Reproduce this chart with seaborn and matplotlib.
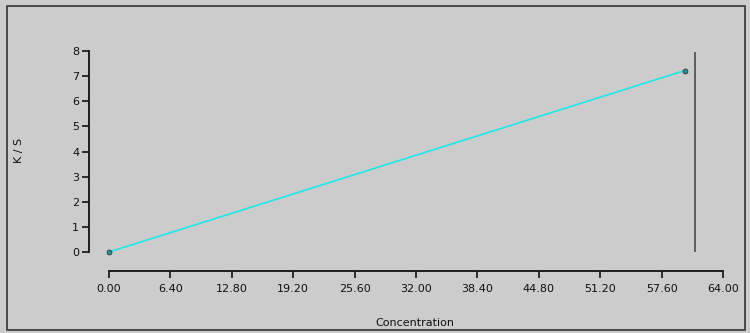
import matplotlib
matplotlib.use("Agg")
import matplotlib.pyplot as plt
import seaborn as sns
import pandas as pd
from matplotlib.patches import Rectangle

# Data
concentration = [0.0, 60.0]
ks_values = [0.0, 7.22]
x_ticks = [0.0, 6.4, 12.8, 19.2, 25.6, 32.0, 38.4, 44.8, 51.2, 57.6, 64.0]
y_ticks = [0, 1, 2, 3, 4, 5, 6, 7, 8]
cursor_x = 61.1

df = pd.DataFrame({"Concentration": concentration, "K / S": ks_values})

sns.set_style("white")
plt.rcParams["font.family"] = ["DejaVu Sans"]
bg = "#cccccc"

fig = plt.figure(figsize=(7.5, 3.33), dpi=100, facecolor=bg)
# frame around the plot area
fig.patches.append(Rectangle((7 / 750, 3 / 333), 738 / 750, 324 / 333,
                             transform=fig.transFigure, fill=False,
                             edgecolor="#333333", linewidth=1.2))

ax = fig.add_axes([89 / 750, 62 / 333, (728 - 89) / 750, (271 - 48) / 333])
ax.set_facecolor(bg)

sns.lineplot(data=df, x="Concentration", y="K / S", ax=ax, color="#1ee8e8",
             linewidth=1.2, marker="o", markersize=3.5,
             markerfacecolor="#1a9a9a", markeredgecolor="#333333",
             markeredgewidth=0.6)
ax.vlines(cursor_x, 0, 7.95, color="#555555", linewidth=1.3)

xs = (723 - 109) / 64.0
ys = 201 / 8.0
ax.set_xlim(-20 / xs, 64 + 5 / xs)
ax.set_ylim(-19 / ys, 8 + 3 / ys)

ax.set_xticks(x_ticks)
ax.set_xticklabels([f"{t:.2f}" for t in x_ticks])
ax.set_yticks(y_ticks)
ax.tick_params(axis="both", labelsize=8, colors="#111111", length=5,
               width=1.2, direction="out", bottom=True, left=True)
ax.tick_params(axis="x", pad=4)
ax.tick_params(axis="y", pad=2)

for s in ["top", "right"]:
    ax.spines[s].set_visible(False)
ax.spines["left"].set_bounds(0, 8)
ax.spines["bottom"].set_bounds(0, 64)
for s in ["left", "bottom"]:
    ax.spines[s].set_linewidth(1.3)
    ax.spines[s].set_color("#111111")

ax.set_xlabel("Concentration", fontsize=8, color="#111111")
ax.set_ylabel("K / S", fontsize=8, color="#111111")
ax.xaxis.set_label_coords((415 - 89) / (728 - 89), -(318 - 271) / (271 - 48))
ax.yaxis.set_label_coords(-(89 - 24) / (728 - 89), (271 - 150) / (271 - 48))

fig.savefig("out.png", dpi=100, facecolor=bg)
